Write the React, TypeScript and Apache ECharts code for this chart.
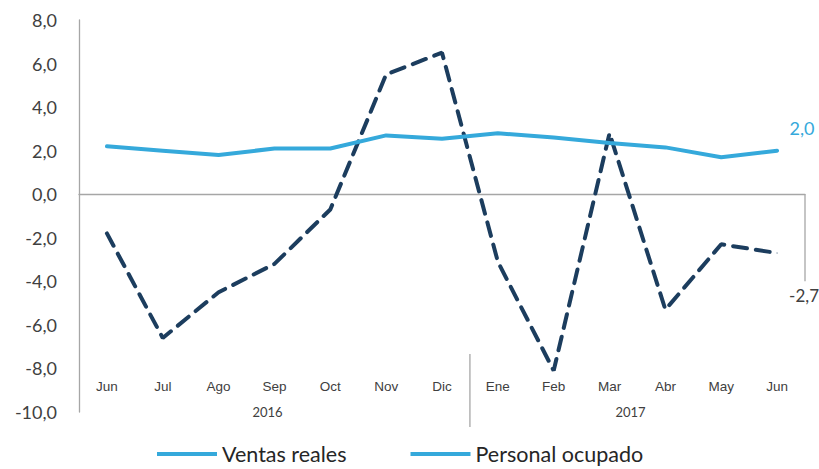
import React, { useEffect, useRef } from 'react';
import * as echarts from 'echarts';

const months = ['Jun', 'Jul', 'Ago', 'Sep', 'Oct', 'Nov', 'Dic', 'Ene', 'Feb', 'Mar', 'Abr', 'May', 'Jun'];
const years = ['2016', '2017'];
const yearStart = [0, 7];
const yearEnd = [6, 12];
const ventasReales = [-1.8, -6.6, -4.5, -3.2, -0.7, 5.5, 6.5, -3.1, -8.1, 2.8, -5.3, -2.3, -2.7];
const personalOcupado = [2.2, 2.0, 1.8, 2.1, 2.1, 2.7, 2.55, 2.8, 2.6, 2.35, 2.15, 1.7, 2.0];
const yMin = -10;
const yMax = 8;
const yStep = 2;

const LIGHT = '#35A9DB';
const DARK = '#1C3D5E';
const TEXT = '#404040';
const AXIS = '#A6A6A6';

const fmt = (v: number) => v.toFixed(1).replace('.', ',');

export default function App() {
  const ref = useRef<HTMLDivElement>(null);
  useEffect(() => {
    if (!ref.current) return;
    const chart = echarts.init(ref.current, null, { renderer: 'svg' });
    const last = months.length - 1;
    chart.setOption({
      animation: false,
      grid: { left: 79, right: 14, top: 20, bottom: 57 },
      legend: {
        bottom: -1,
        left: 152,
        icon: 'rect',
        itemWidth: 60,
        itemHeight: 4,
        itemGap: 64,
        textStyle: { fontFamily: 'Lato', fontSize: 21.5, color: '#262626' },
        data: [
          { name: 'Ventas reales', itemStyle: { color: LIGHT } },
          { name: 'Personal ocupado', itemStyle: { color: LIGHT } },
        ],
      },
      xAxis: [
        {
          type: 'category',
          data: months,
          boundaryGap: true,
          axisLine: { onZero: true, lineStyle: { color: AXIS, width: 1.3 } },
          axisTick: { show: false },
          axisLabel: { show: false },
          splitLine: { show: false },
        },
        {
          type: 'category',
          data: months,
          position: 'bottom',
          offset: -35,
          boundaryGap: true,
          axisLine: { show: false },
          axisTick: { show: false },
          axisLabel: {
            margin: 2,
            interval: 0,
            fontFamily: 'Liberation Sans',
            fontSize: 13.5,
            color: TEXT,
          },
        },
      ],
      yAxis: {
        type: 'value',
        min: yMin,
        max: yMax,
        interval: yStep,
        axisLine: { show: true, lineStyle: { color: AXIS, width: 1.3 } },
        axisTick: { show: false },
        splitLine: { show: false },
        axisLabel: {
          margin: 22,
          fontFamily: 'Lato',
          fontSize: 18,
          color: TEXT,
          formatter: (v: number) => fmt(v),
        },
      },
      series: [
        {
          name: 'Ventas reales',
          type: 'line',
          data: ventasReales.map((v, i) =>
            i === last
              ? {
                  value: v,
                  symbol: 'circle',
                  symbolSize: 1,
                  label: {
                    show: true,
                    position: 'bottom',
                    offset: [27, 28],
                    formatter: (p: any) => fmt(p.value),
                    fontFamily: 'Lato',
                    fontSize: 17,
                    color: TEXT,
                  },
                }
              : v
          ),
          symbol: 'none',
          lineStyle: { color: DARK, width: 4, type: [14, 9], cap: 'round' },
          itemStyle: { color: DARK },
          z: 3,
        },
        {
          name: 'Personal ocupado',
          type: 'line',
          data: personalOcupado.map((v, i) =>
            i === last
              ? {
                  value: v,
                  symbol: 'circle',
                  symbolSize: 1,
                  label: {
                    show: true,
                    position: 'top',
                    offset: [25, -8],
                    formatter: (p: any) => fmt(p.value),
                    fontFamily: 'Lato',
                    fontSize: 18,
                    color: LIGHT,
                  },
                }
              : v
          ),
          symbol: 'none',
          lineStyle: { color: LIGHT, width: 4, cap: 'round' },
          itemStyle: { color: LIGHT },
          z: 4,
        },
      ],
    });

    const px = (i: number) => chart.convertToPixel({ xAxisIndex: 0 }, i) as number;
    const py = (v: number) => chart.convertToPixel({ yAxisIndex: 0 }, v) as number;
    const band = px(1) - px(0);
    const sepX = (px(6) + px(7)) / 2;
    const rightX = px(last) + band / 2;
    const y0 = py(0);
    const yBottom = py(yMin);
    const graphics: any[] = [
      {
        type: 'line',
        shape: { x1: sepX, y1: yBottom - 58, x2: sepX, y2: yBottom + 15 },
        style: { stroke: AXIS, lineWidth: 1.3 },
      },
      {
        type: 'line',
        shape: { x1: rightX, y1: y0, x2: rightX, y2: py(-4) },
        style: { stroke: AXIS, lineWidth: 1.3 },
      },
    ];
    years.forEach((yr, k) => {
      const cx = (px(yearStart[k]) + px(yearEnd[k])) / 2 - 7;
      graphics.push({
        type: 'text',
        x: cx,
        y: yBottom,
        style: {
          text: yr,
          fontFamily: 'Lato',
          fontSize: 13,
          fill: TEXT,
          align: 'center',
          verticalAlign: 'middle',
        },
      });
    });
    chart.setOption({ graphic: graphics });

    return () => chart.dispose();
  }, []);
  return <div ref={ref} style={{ position: 'absolute', left: 0, top: 0, width: 819, height: 469 }} />;
}
